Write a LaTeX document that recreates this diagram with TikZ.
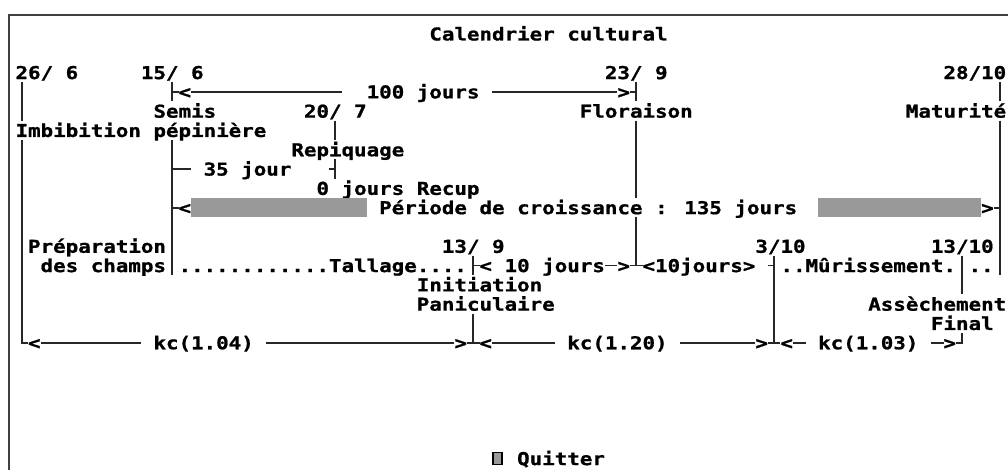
\documentclass[tikz,border=0pt]{standalone}
\usepackage{fontspec}
\newfontfamily\dosfont[FakeStretch=1.1746,FakeBold=1]{DejaVu Sans Mono}
\begin{document}
\begin{tikzpicture}[x=9.405pt,y=-14.475pt,
  txt/.style={anchor=base west,inner sep=0pt,outer sep=0pt,text=black,
    font=\dosfont\bfseries\fontsize{13.3pt}{16pt}\selectfont},
  box/.style={line width=1.4pt,draw=black!85},
  frame/.style={line width=1.6pt,draw=black!75},
  shade/.style={fill=black!40,draw=none},
  btn/.style={draw=black,line width=1.2pt,fill=black!40,minimum width=7pt,minimum height=9pt,inner sep=0pt}]
\useasboundingbox[fill=white] (-0.239,-0.756) rectangle (80.144,23.596);

% ---------- texts ----------
\node[txt] (title) at (34,1.34) {Calendrier cultural};
\node[txt] (d2606) at (1,3.34) {26/ 6};
\node[txt] (d1506) at (11,3.34) {15/ 6};
\node[txt] (d2309) at (48,3.34) {23/ 9};
\node[txt] (d2810) at (75,3.34) {28/10};
\node[txt] (lt4) at (14,4.34) {<};
\node[txt] (j100) at (29,4.34) {100 jours};
\node[txt] (gt4) at (49,4.34) {>};
\node[txt] (semis) at (12,5.34) {Semis};
\node[txt] (d2007) at (24,5.34) {20/ 7};
\node[txt] (flor) at (46,5.34) {Floraison};
\node[txt] (matur) at (72,5.34) {Maturité};
\node[txt] (imbib) at (1,6.34) {Imbibition};
\node[txt] (pepin) at (12,6.34) {pépinière};
\node[txt] (repiq) at (23,7.34) {Repiquage};
\node[txt] (j35) at (16,8.34) {35 jour};
\node[txt] (recup) at (25,9.34) {0 jours Recup};
\node[txt] (lt10) at (14,10.34) {<};
\node[txt] (periode) at (30,10.34) {Période de croissance : 135 jours};
\node[txt] (gt10) at (78,10.34) {>};
\node[txt] (prep) at (2,12.34) {Préparation};
\node[txt] (d1309) at (35,12.34) {13/ 9};
\node[txt] (d0310) at (60,12.34) {3/10};
\node[txt] (d1310) at (74,12.34) {13/10};
\node[txt] (champs) at (3,13.34) {des champs};
\node[txt] (tallage) at (14,13.34) {............Tallage....};
\node[txt] (j10) at (38,13.34) {< 10 jours};
\node[txt] (gt13) at (49,13.34) {>};
\node[txt] (j10b) at (51,13.34) {<10jours>};
\node[txt] (muris) at (62,13.34) {..Mûrissement.};
\node[txt] (dots) at (77,13.34) {..};
\node[txt] (initi) at (33,14.34) {Initiation};
\node[txt] (panic) at (33,15.34) {Paniculaire};
\node[txt] (assech) at (69,15.34) {Assèchement};
\node[txt] (final) at (74,16.34) {Final};
\node[txt] (lt17a) at (2,17.34) {<};
\node[txt] (kc1) at (12,17.34) {kc(1.04)};
\node[txt] (gt17a) at (36,17.34) {>};
\node[txt] (lt17b) at (38,17.34) {<};
\node[txt] (kc2) at (45,17.34) {kc(1.20)};
\node[txt] (gt17b) at (60,17.34) {>};
\node[txt] (lt17c) at (62,17.34) {<};
\node[txt] (kc3) at (65,17.34) {kc(1.03)};
\node[txt] (gt17c) at (75,17.34) {>};
\node[txt] (quit) at (41,23.34) {Quitter};
\node[btn] (btn) at (39.43,23) {};

% ---------- shaded bars ----------
\fill[shade] (15,9.5) rectangle (29,10.5);
\fill[shade] (65,9.5) rectangle (78,10.5);

% ---------- coordinates ----------
\coordinate (fr1) at (80.144,0);
\coordinate (fr2) at (0.5,0);
\coordinate (fr3) at (0.5,23.596);
% column 1
\coordinate (c1a) at (1.5,3.5);  \coordinate (c1b) at (1.5,5.5);
\coordinate (c1c) at (1.5,6.5);  \coordinate (c1d) at (1.5,17);
\coordinate (c1e) at (2,17);
% column 13
\coordinate (c13a) at (13.5,3.5); \coordinate (c13b) at (13.5,4.5);
\coordinate (c13m4) at (13.5,4);  \coordinate (c13s4) at (14,4);
\coordinate (c13c) at (13.5,6.5); \coordinate (c13d) at (13.5,13.5);
\coordinate (c13m8) at (13.5,8);  \coordinate (c13s8) at (15,8);
\coordinate (c13m10) at (13.5,10); \coordinate (c13s10) at (14,10);
% column 26
\coordinate (c26a) at (26.5,5.5); \coordinate (c26b) at (26.5,6.5);
\coordinate (c26c) at (26.5,7.5); \coordinate (c26d) at (26.5,8.5);
\coordinate (c26m8) at (26.5,8);  \coordinate (c26s8) at (26,8);
% column 37
\coordinate (c37a) at (37.5,12.5); \coordinate (c37b) at (37.5,13.5);
\coordinate (c37m13) at (37.5,13); \coordinate (c37s13) at (38,13);
\coordinate (c37c) at (37.5,15.5); \coordinate (c37d) at (37.5,17);
\coordinate (c37l) at (37,17);     \coordinate (c37r) at (38,17);
% column 50
\coordinate (c50a) at (50.5,3.5); \coordinate (c50b) at (50.5,4.5);
\coordinate (c50m4) at (50.5,4);  \coordinate (c50s4) at (50,4);
\coordinate (c50c) at (50.5,5.5); \coordinate (c50d) at (50.5,9.5);
\coordinate (c50e) at (50.5,10.5); \coordinate (c50f) at (50.5,13);
\coordinate (c50l) at (50,13);    \coordinate (c50r) at (51,13);
% column 61
\coordinate (c61a) at (61.5,12.5); \coordinate (c61b) at (61.5,17);
\coordinate (c61m13) at (61.5,13); \coordinate (c61s13) at (61,13);
\coordinate (c61l) at (61,17);     \coordinate (c61r) at (62,17);
% column 76
\coordinate (c76a) at (76.5,12.5); \coordinate (c76b) at (76.5,14.5);
\coordinate (c76c) at (76.5,16.5); \coordinate (c76d) at (76.5,17);
\coordinate (c76e) at (76,17);
% column 79
\coordinate (c79a) at (79.5,3.5); \coordinate (c79b) at (79.5,4.5);
\coordinate (c79c) at (79.5,5.5); \coordinate (c79d) at (79.5,13.5);
\coordinate (c79m10) at (79.5,10); \coordinate (c79s10) at (79,10);
% horizontal runs
\coordinate (h4a) at (15,4);  \coordinate (h4b) at (27,4);
\coordinate (h4c) at (39,4);  \coordinate (h4d) at (49,4);
\coordinate (h13a) at (48,13); \coordinate (h13b) at (49,13);
\coordinate (h17a) at (3,17);  \coordinate (h17b) at (11,17);
\coordinate (h17c) at (21,17); \coordinate (h17d) at (36,17);
\coordinate (h17e) at (39,17); \coordinate (h17f) at (44,17);
\coordinate (h17g) at (54,17); \coordinate (h17h) at (60,17);
\coordinate (h17i) at (63,17); \coordinate (h17j) at (64,17);
\coordinate (h17k) at (74,17); \coordinate (h17l) at (75,17);

% ---------- frame ----------
\draw[frame] (fr1) -- (fr2) -- (fr3);

% ---------- box lines ----------
\draw[box] (c1a) -- (c1b);
\draw[box] (c1c) -- (c1d) -- (c1e);

\draw[box] (c13a) -- (c13b);
\draw[box] (c13m4) -- (c13s4);
\draw[box] (c13c) -- (c13d);
\draw[box] (c13m8) -- (c13s8);
\draw[box] (c13m10) -- (c13s10);

\draw[box] (c26a) -- (c26b);
\draw[box] (c26c) -- (c26d);
\draw[box] (c26m8) -- (c26s8);

\draw[box] (c37a) -- (c37b);
\draw[box] (c37m13) -- (c37s13);
\draw[box] (c37c) -- (c37d);
\draw[box] (c37l) -- (c37r);

\draw[box] (c50a) -- (c50b);
\draw[box] (c50m4) -- (c50s4);
\draw[box] (c50c) -- (c50d);
\draw[box] (c50e) -- (c50f);
\draw[box] (c50l) -- (c50r);

\draw[box] (c61a) -- (c61b);
\draw[box] (c61m13) -- (c61s13);
\draw[box] (c61l) -- (c61r);

\draw[box] (c76a) -- (c76b);
\draw[box] (c76c) -- (c76d) -- (c76e);

\draw[box] (c79a) -- (c79b);
\draw[box] (c79c) -- (c79d);
\draw[box] (c79m10) -- (c79s10);

\draw[box] (h4a) -- (h4b);
\draw[box] (h4c) -- (h4d);
\draw[box] (h13a) -- (h13b);
\draw[box] (h17a) -- (h17b);
\draw[box] (h17c) -- (h17d);
\draw[box] (h17e) -- (h17f);
\draw[box] (h17g) -- (h17h);
\draw[box] (h17i) -- (h17j);
\draw[box] (h17k) -- (h17l);
\end{tikzpicture}
\end{document}
